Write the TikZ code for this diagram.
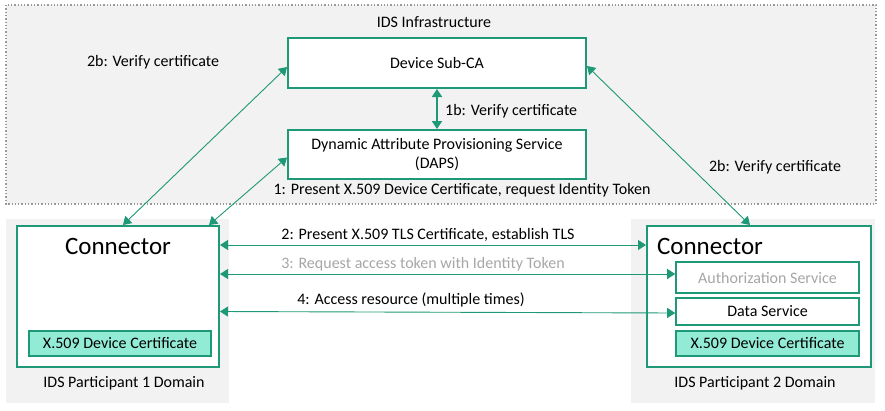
\documentclass[tikz,border=0pt]{standalone}
\usepackage{fontspec}
\setmainfont{Carlito}
\usetikzlibrary{arrows.meta}
\definecolor{idsgreen}{RGB}{30,152,118}
\definecolor{bggray}{RGB}{242,242,242}
\definecolor{certfill}{RGB}{146,235,213}
\definecolor{lightgraytext}{RGB}{166,166,166}
\begin{document}
\begin{tikzpicture}[x=1pt,y=-1pt,
  every node/.style={font=\fontsize{16}{19}\selectfont, inner sep=0pt},
  area/.style={fill=bggray, draw=none},
  box/.style={draw=idsgreen, line width=2pt, fill=white},
  certbox/.style={draw=idsgreen, line width=1.6pt, fill=certfill},
  svcbox/.style={draw=idsgreen, line width=1.6pt, fill=white},
  link/.style={draw=idsgreen, line width=0.9pt, {Triangle[length=8pt,width=10pt]}-{Triangle[length=8pt,width=10pt]}},
  biglbl/.style={font=\fontsize{25}{28}\selectfont}
]
\useasboundingbox (0,0) rectangle (885,410);
% areas
\draw[fill=bggray, draw=gray!80, dotted, line width=1.3pt] (6,5) rectangle (876,204);
\node[area, minimum width=223pt, minimum height=184pt] (dom1) at (117.5,311) {};
\node[area, minimum width=244pt, minimum height=184pt] (dom2) at (753,311) {};
\node (infratitle) at (434,22) {IDS Infrastructure};
% infrastructure boxes
\node[box, minimum width=298pt, minimum height=50pt] (subca) at (437,63) {Device Sub-CA};
\node[box, minimum width=298pt, minimum height=49pt, align=center] (daps) at (437,154.5) {Dynamic Attribute Provisioning Service\\(DAPS)};
% connectors
\node[box, minimum width=202pt, minimum height=141pt] (con1) at (118,296.5) {};
\node[biglbl] (con1t) at (118,246) {Connector};
\node[certbox, minimum width=182pt, minimum height=25pt] (cert1) at (120,343.5) {X.509 Device Certificate};
\node[box, minimum width=224pt, minimum height=141pt] (con2) at (759,296.5) {};
\node[biglbl] (con2t) at (710,246) {Connector};
\node[svcbox, minimum width=183pt, minimum height=31pt, text=lightgraytext] (auth) at (767.5,277.5) {Authorization Service};
\node[svcbox, minimum width=183pt, minimum height=27pt] (data) at (767.5,311.5) {Data Service};
\node[certbox, minimum width=183pt, minimum height=25pt] (cert2) at (767.5,343.5) {X.509 Device Certificate};
\node (dom1t) at (124,383) {IDS Participant 1 Domain};
\node (dom2t) at (755,383) {IDS Participant 2 Domain};
% links
\draw[link, line width=1.8pt] (subca.south) -- (daps.north);
\node[anchor=west] (l1b) at (445,111) {1b: Verify certificate};
\draw[link] ([yshift=-4pt]subca.west) -- ([xshift=5pt]con1.north);
\node (l2bl) at (153,62) {2b: Verify certificate};
\draw[link] ([yshift=-3pt]daps.west) -- ([xshift=-11pt]con1.north east);
\node (l1) at (462,190) {1: Present X.509 Device Certificate, request Identity Token};
\draw[link] ([yshift=-3pt]subca.east) -- ([xshift=-9pt]con2.north);
\node (l2br) at (775,167) {2b: Verify certificate};
\draw[link] ([yshift=-20pt]con1.north east) -- ([yshift=-20pt]con2.north west);
\node (l2) at (428,235) {2: Present X.509 TLS Certificate, establish TLS};
\draw[link] ([yshift=3.5pt]auth.west -| con1.east) -- ([yshift=3.5pt]auth.west);
\node[text=lightgraytext] (l3) at (423,264) {3: Request access token with Identity Token};
\draw[link] (data.west -| con1.east) -- ([yshift=-1.5pt]data.west);
\node (l4) at (411,300) {4: Access resource (multiple times)};
\end{tikzpicture}
\end{document}
